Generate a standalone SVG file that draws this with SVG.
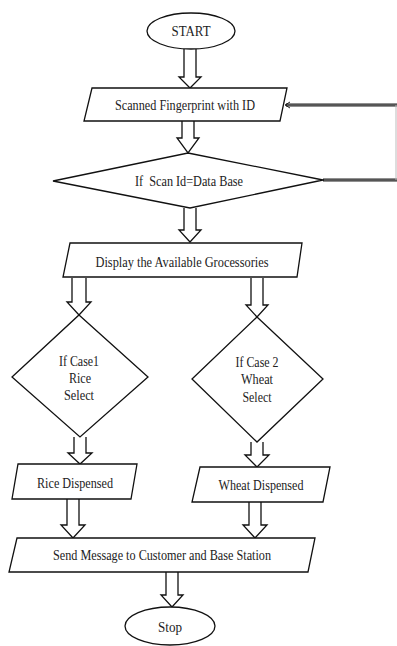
<svg xmlns="http://www.w3.org/2000/svg" width="397" height="646" viewBox="0 0 397 646">
<style>
.s{fill:#fff;stroke:#111;stroke-width:1.3;stroke-linejoin:miter}
.a{fill:#fff;stroke:#111;stroke-width:1.3}
.t{font-family:"Liberation Serif","Times New Roman",serif;font-size:14.5px;fill:#222;text-anchor:middle;white-space:pre}
.fo{fill:none;stroke:#222;stroke-width:3.2}
.fi{fill:none;stroke:#888;stroke-width:1}
</style>
<rect width="397" height="646" fill="#fff"/>
<g id="connectors">
<path class="a" d="M184,49 V77 H179 L190,88 L201,77 H196 V49"/>
<path class="a" d="M182,121 V138 H177 L188,153 L199,138 H194 V121"/>
<path class="a" d="M184,208 V230 H179 L190,242 L201,230 H196 V208"/>
<path class="a" d="M72,278 V302 H67 L79,315 L91,302 H86 V278"/>
<path class="a" d="M251,278 V305 H246 L257,317 L268,305 H263 V278"/>
<path class="a" d="M74,437 V453 H68 L80,464 L92,453 H86 V437"/>
<path class="a" d="M251,442 V455 H245 L257,467 L269,455 H263 V442"/>
<path class="a" d="M67,499 V525 H61 L73,538 L85,525 H79 V499"/>
<path class="a" d="M249,502 V525 H243 L255,538 L267,525 H261 V502"/>
<path class="a" d="M166,572 V595 H161 L172,607 L183,595 H178 V572"/>
<g id="feedback">
<path class="fo" d="M323,180 H397"/>
<path class="fi" d="M324,180 H397"/>
<path class="fo" d="M397,105 H286"/>
<path class="fi" d="M397,105 H287"/>
<path d="M396,105 V180" fill="none" stroke="#bbb" stroke-width="1"/>
<path d="M290,102 L285,105 L290,108" fill="none" stroke="#222" stroke-width="1"/>
</g>
</g>
<g id="start">
<ellipse class="s" cx="191" cy="31" rx="44" ry="18"/>
<text class="t" x="191" y="36" textLength="39" lengthAdjust="spacingAndGlyphs">START</text>
</g>
<g id="scan">
<path class="s" d="M92,88 H287 L280,121 H84 Z"/>
<text class="t" x="185" y="110" textLength="140" lengthAdjust="spacingAndGlyphs">Scanned Fingerprint with ID</text>
</g>
<g id="check">
<path class="s" d="M188,153 L323,180 L190,208 L53,181 Z"/>
<text class="t" x="189" y="186" textLength="108" lengthAdjust="spacingAndGlyphs">If  Scan Id=Data Base</text>
</g>
<g id="display">
<path class="s" d="M70,243 H302 L297,277 H63 Z"/>
<text class="t" x="182" y="267" textLength="173" lengthAdjust="spacingAndGlyphs">Display the Available Grocessories</text>
</g>
<g id="case1">
<path class="s" d="M79,315 L148,377 L80,437 L12,377 Z"/>
<text class="t" x="79" y="366" textLength="40" lengthAdjust="spacingAndGlyphs">If Case1</text>
<text class="t" x="80" y="383" textLength="22" lengthAdjust="spacingAndGlyphs">Rice</text>
<text class="t" x="79" y="400" textLength="30" lengthAdjust="spacingAndGlyphs">Select</text>
</g>
<g id="case2">
<path class="s" d="M257,317 L323,379 L257,442 L192,379 Z"/>
<text class="t" x="257" y="367" textLength="43" lengthAdjust="spacingAndGlyphs">If Case 2</text>
<text class="t" x="257" y="384" textLength="32" lengthAdjust="spacingAndGlyphs">Wheat</text>
<text class="t" x="257" y="402" textLength="29" lengthAdjust="spacingAndGlyphs">Select</text>
</g>
<g id="rice">
<path class="s" d="M18,464 H137 L131,499 H12 Z"/>
<text class="t" x="75" y="488" textLength="76" lengthAdjust="spacingAndGlyphs">Rice Dispensed</text>
</g>
<g id="wheat">
<path class="s" d="M200,467 H330 L323,502 H192 Z"/>
<text class="t" x="261" y="490" textLength="85" lengthAdjust="spacingAndGlyphs">Wheat Dispensed</text>
</g>
<g id="send">
<path class="s" d="M17,538 H315 L308,572 H9 Z"/>
<text class="t" x="162" y="560" textLength="218" lengthAdjust="spacingAndGlyphs">Send Message to Customer and Base Station</text>
</g>
<g id="stop">
<ellipse class="s" cx="170" cy="626" rx="45" ry="19"/>
<text class="t" x="170" y="631.5" textLength="24" lengthAdjust="spacingAndGlyphs">Stop</text>
</g>
</svg>
